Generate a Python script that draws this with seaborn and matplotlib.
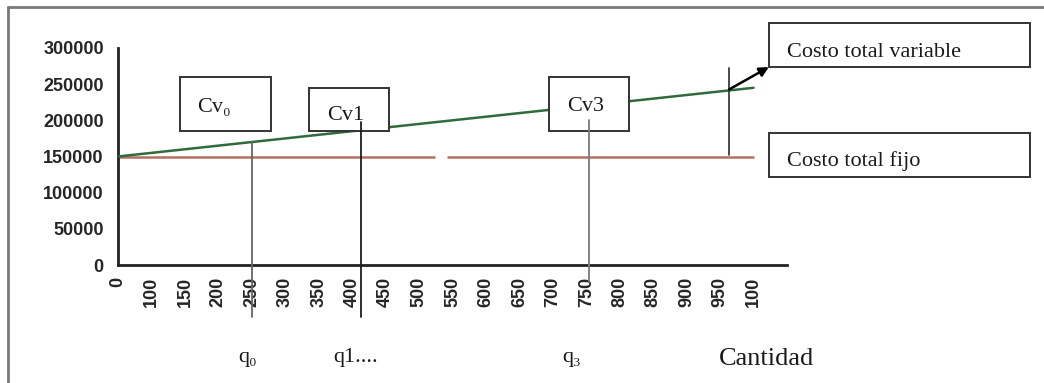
import matplotlib
matplotlib.use("Agg")
import matplotlib.pyplot as plt
import seaborn as sns
import numpy as np
import pandas as pd
from matplotlib.patches import Rectangle
from matplotlib.lines import Line2D

# ---------------- data ----------------
quantity_labels = ["0", "100", "150", "200", "250", "300", "350", "400", "450", "500",
                   "550", "600", "650", "700", "750", "800", "850", "900", "950", "100"]
variable_cost = [150000, 155000, 160000, 165000, 170000, 175000, 180000, 185000, 190000, 195000,
                 200000, 205000, 210000, 215000, 220000, 225000, 230000, 235000, 240000, 245000]
fixed_cost = 150000
fixed_segments = [(0.0, 9.48), (9.85, 19.0)]          # category-index spans of the fixed-cost line
y_ticks = [0, 50000, 100000, 150000, 200000, 250000, 300000]
# reference (vertical) lines: x (category index), top value, bottom value
marker_x = [4.0, 7.26, 14.07, 18.27]
marker_top = [170000, 197700, 200400, 272300]
marker_bottom = [-72000, -72000, -23500, 152000]
marker_colors = ["#5d6b5d", "#1e1e1e", "#7a7a7a", "#3c3c3c"]
arrow_start = (18.27, 242700)

# ---------------- figure ----------------
sns.set_style("white")
plt.rcParams["font.family"] = ["Liberation Sans", "DejaVu Sans"]

W, H = 1044, 383
fig = plt.figure(figsize=(W / 100, H / 100), dpi=100)
fig.patch.set_facecolor("white")

def fx(x):
    return x / W

def fy(y):
    return 1 - y / H

ax = fig.add_axes([fx(118), fy(265), (787 - 118) / W, (265 - 48) / H])

df = pd.DataFrame({"q": np.arange(len(quantity_labels)), "cv": variable_cost})

# fixed cost line (with its small gap)
for a, b in fixed_segments:
    ax.hlines(fixed_cost, a, b, color="#b5705f", lw=1.8, zorder=2)

# total variable cost line
sns.lineplot(data=df, x="q", y="cv", color="#2f6b3c", lw=1.8, ax=ax, zorder=3)

# boxes (white filled, over the curves, under the marker lines)
boxes = [(180, 77, 271, 131), (309, 88, 389, 131), (549, 77, 629, 131),
         (769, 23, 1030, 67), (769, 133, 1030, 177)]
for x0, y0, x1, y1 in boxes:
    ax.add_patch(Rectangle((fx(x0), fy(y1)), (x1 - x0) / W, (y1 - y0) / H,
                           transform=fig.transFigure, clip_on=False,
                           fc="white", ec="#333333", lw=1.4, zorder=3.5))

# vertical marker lines
for x, t, b, c in zip(marker_x, marker_top, marker_bottom, marker_colors):
    ax.plot([x, x], [b, t], color=c, lw=1.3, clip_on=False, zorder=4)

ax.set_xlim(0, 20)
ax.set_ylim(0, 300000)
ax.set_xticks(range(21))
ax.set_xticklabels(quantity_labels + [""], rotation=90, fontsize=13, fontweight="bold")
ax.set_yticks(y_ticks)
ax.set_yticklabels([str(v) for v in y_ticks], fontsize=13, fontweight="bold")
ax.tick_params(axis="both", direction="inout", length=7.5, width=1.5, color="#222222")
ax.tick_params(axis="x", pad=5)
ax.tick_params(axis="y", pad=6.5)
ax.set_xlabel("")
ax.set_ylabel("")
for s in ["top", "right"]:
    ax.spines[s].set_visible(False)
for s in ["left", "bottom"]:
    ax.spines[s].set_linewidth(2)
    ax.spines[s].set_color("#222222")

# arrow to the "Costo total variable" box
ax.annotate("", xy=(fx(769), fy(67)), xycoords="figure fraction",
            xytext=arrow_start, textcoords="data",
            arrowprops=dict(arrowstyle="-|>", color="black", lw=1.8,
                            mutation_scale=14, shrinkA=0, shrinkB=0),
            annotation_clip=False, zorder=5)

serif = ["Liberation Serif", "DejaVu Serif"]
texts = [("Cv\u2080", 197, 112, 16), ("Cv1", 327, 120, 16), ("Cv3", 567, 111, 16),
         ("Costo total variable", 787, 57, 16), ("Costo total fijo", 787, 166, 16),
         ("q\u2080", 238, 362, 16), ("q1....", 333, 362, 16), ("q\u2083", 562, 362, 16),
         ("Cantidad", 719, 365, 19)]
for s, x, y, fs in texts:
    fig.text(fx(x), fy(y), s, fontsize=fs, family=serif, va="baseline", ha="left",
             color="#1a1a1a")

# outer frame (left and top edges)
fig.add_artist(Line2D([fx(8), fx(8)], [fy(7), 0], transform=fig.transFigure,
                      color="#7a7a7a", lw=2))
fig.add_artist(Line2D([fx(8), 1], [fy(7), fy(7)], transform=fig.transFigure,
                      color="#7a7a7a", lw=2))

fig.savefig("out.png", dpi=100, facecolor="white")
